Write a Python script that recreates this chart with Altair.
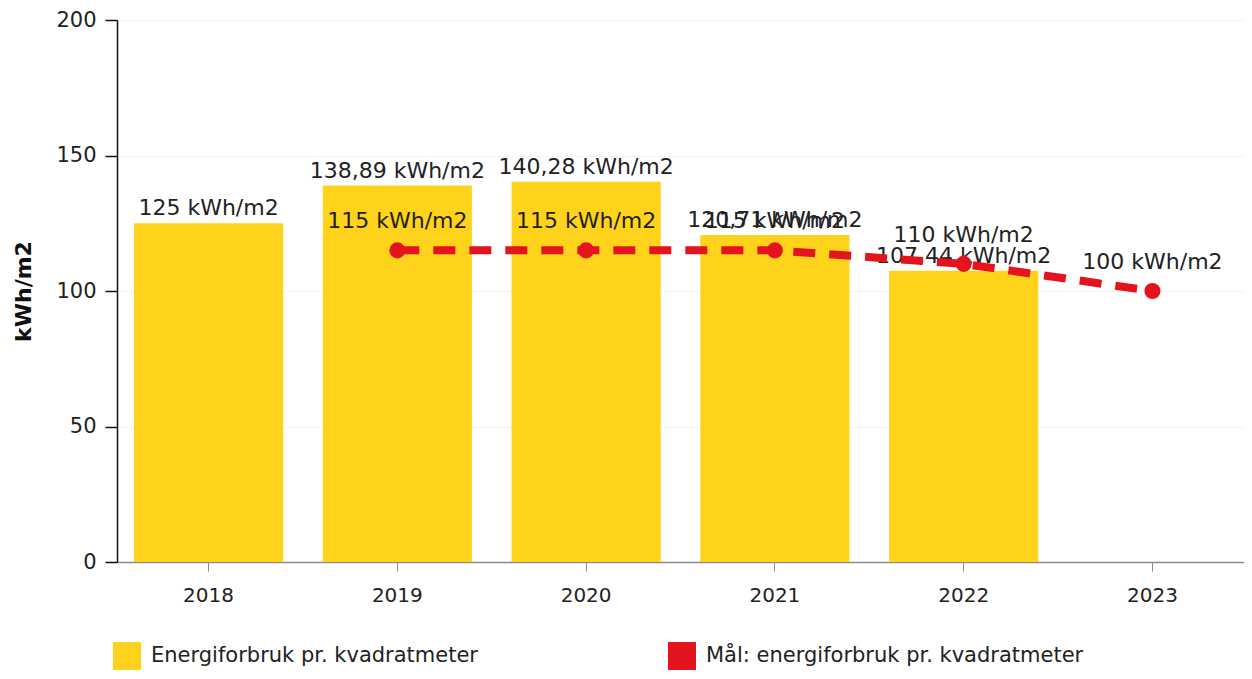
import altair as alt
import pandas as pd

years = ["2018", "2019", "2020", "2021", "2022", "2023"]
usage_years = ["2018", "2019", "2020", "2021", "2022"]
usage = [125, 138.89, 140.28, 120.71, 107.44]
usage_labels = ["125 kWh/m2", "138,89 kWh/m2", "140,28 kWh/m2", "120,71 kWh/m2", "107,44 kWh/m2"]
target_years = ["2019", "2020", "2021", "2022", "2023"]
target = [115, 115, 115, 110, 100]
target_labels = ["115 kWh/m2", "115 kWh/m2", "115 kWh/m2", "110 kWh/m2", "100 kWh/m2"]
series = ["Energiforbruk pr. kvadratmeter", "Mål: energiforbruk pr. kvadratmeter"]
colors = ["#FFD21C", "#E3141E"]
y_ticks = [0, 50, 100, 150, 200]

bars_df = pd.DataFrame({"year": usage_years, "value": usage, "label": usage_labels,
                        "series": [series[0]] * len(usage_years)})
target_df = pd.DataFrame({"year": target_years, "value": target, "label": target_labels})

FONT = "DejaVu Sans"

x_enc = alt.X("year:O", scale=alt.Scale(domain=years, paddingInner=0.21, paddingOuter=0.09),
              axis=alt.Axis(title=None, labelAngle=0, labelFontSize=20, labelColor="#222",
                            labelPadding=14, domainColor="#8a8a8a", tickColor="#8a8a8a",
                            tickSize=9, domainWidth=1.5, grid=False))
y_enc = alt.Y("value:Q", scale=alt.Scale(domain=[0, 200], nice=False),
              axis=alt.Axis(title="kWh/m2", values=y_ticks, titleFontSize=22, titleFontWeight="bold",
                            titleColor="#111", titlePadding=20, labelFontSize=21, labelColor="#222",
                            labelPadding=9, domainColor="#111", domainWidth=1.5,
                            tickColor="#111", tickSize=12, tickWidth=1.5,
                            grid=True, gridColor="#f4f4f4", gridWidth=1))

bars = alt.Chart(bars_df).mark_bar(opacity=1).encode(
    x=x_enc,
    y=y_enc,
    color=alt.Color("series:N", scale=alt.Scale(domain=series, range=colors),
                    legend=alt.Legend(title=None, orient="none", legendX=-4, legendY=622,
                                      direction="horizontal", symbolType="square",
                                      symbolSize=784, symbolStrokeWidth=0, symbolOpacity=1,
                                      labelFontSize=21, labelColor="#222", labelOffset=10,
                                      columnPadding=190, labelLimit=600, padding=0)),
)

bar_text = alt.Chart(bars_df).mark_text(baseline="bottom", dy=-3, fontSize=22, color="#222").encode(
    x="year:O", y="value:Q", text="label:N")

line = alt.Chart(target_df).mark_line(color=colors[1], strokeWidth=8, strokeDash=[22, 14]).encode(
    x="year:O", y="value:Q")
points = alt.Chart(target_df).mark_circle(color=colors[1], size=260, opacity=1).encode(
    x="year:O", y="value:Q")
line_text = alt.Chart(target_df).mark_text(baseline="middle", dy=-29, fontSize=22, color="#222").encode(
    x="year:O", y="value:Q", text="label:N")

chart = alt.layer(bars, bar_text, line, points, line_text).properties(
    width=1127, height=542,
    autosize=alt.AutoSizeParams(type="none"),
    padding={"left": 109, "top": 12, "right": 0, "bottom": 110},
).configure(font=FONT).configure_view(strokeWidth=0)

chart.save("out.html", embed_options={"renderer": "svg", "actions": False})
